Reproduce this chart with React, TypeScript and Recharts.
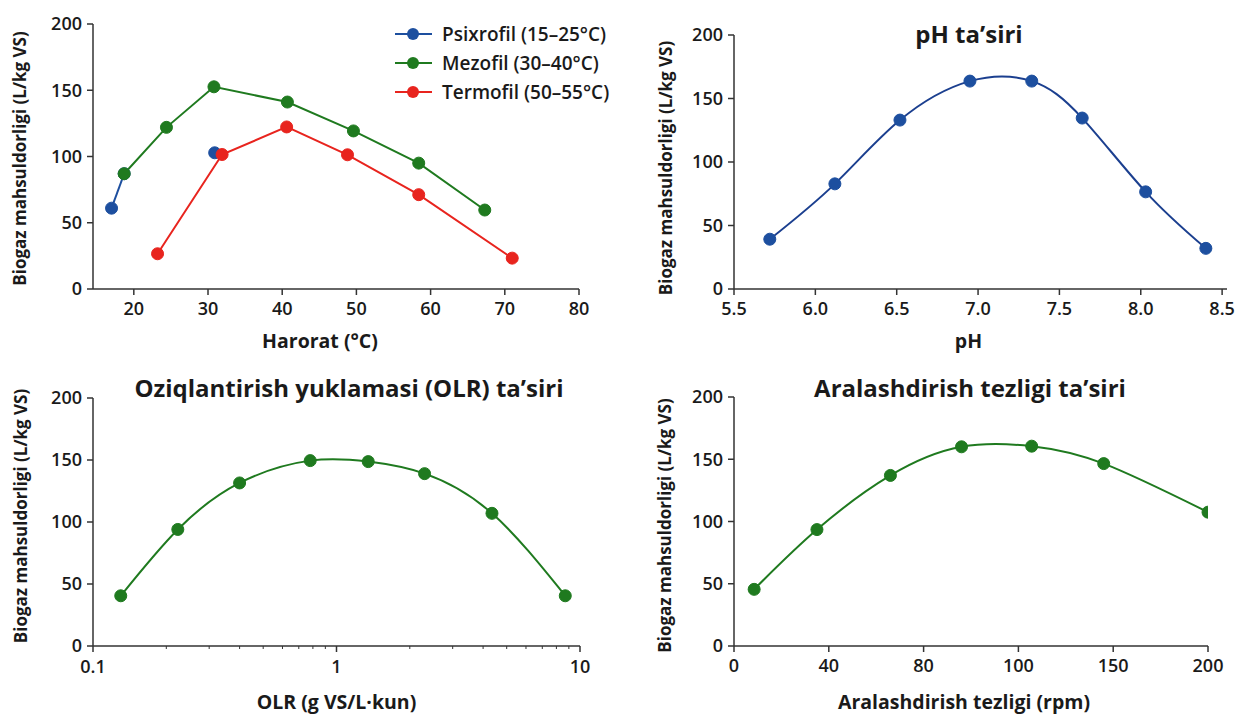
import React from 'react';
import { LineChart, Line, XAxis, YAxis, Legend } from 'recharts';

const FONT = '"Open Sans", "Noto Sans", "DejaVu Sans", sans-serif';
const AXIS = '#333333';
const TEXT = '#1a1a1a';
const BLUE = '#1d4f9f';
const NAVY = '#1b3f8f';
const GREEN = '#1f7a1f';
const RED = '#e8241e';

const Y_TITLE = 'Biogaz mahsuldorligi (L/kg VS)';
const yTicks = [0, 50, 100, 150, 200];

// Panel 1: temperature
const seriesNames = ['Psixrofil (15–25°C)', 'Mezofil (30–40°C)', 'Termofil (50–55°C)'];
const tempTicks = [20, 30, 40, 50, 60, 70, 80];
const psixTemp = [17.0, 18.7, 24.0, 30.9];
const psixYield: (number | null)[] = [61, 87, null, 102.8];
const mezTemp = [18.7, 24.4, 30.8, 40.7, 49.6, 58.4, 67.3];
const mezYield = [87, 122, 152.6, 141.1, 119.3, 95, 59.6];
const termTemp = [23.2, 31.9, 40.6, 48.8, 58.4, 71.0];
const termYield = [26.6, 101.5, 122.3, 101.3, 71.2, 23.3];

// Panel 2: pH
const phTicks = [5.5, 6.0, 6.5, 7.0, 7.5, 8.0, 8.5];
const phValues = [5.72, 6.12, 6.52, 6.95, 7.33, 7.64, 8.03, 8.4];
const phYield = [39.2, 82.8, 133, 163.7, 163.7, 134.6, 76.5, 32];

// Panel 3: OLR
const olrMajor = [0.1, 1, 10];
const olrTicks = [0.1, 0.2, 0.3, 0.4, 0.5, 0.6, 0.7, 0.8, 0.9, 1, 2, 3, 4, 5, 6, 7, 8, 9, 10];
const olrValues = [0.13, 0.223, 0.4, 0.78, 1.35, 2.3, 4.35, 8.7];
const olrYield = [40.5, 94, 131.5, 149.5, 148.7, 139, 107, 40.5];

// Panel 4: mixing speed
const rpmTicks = [0, 40, 80, 100, 150, 200];
const rpmValues = [8.5, 35, 66, 88, 107, 145, 200];
const rpmYield = [45.5, 93.5, 137, 160, 160.5, 146.5, 107.5];

const zip = (xs: number[], ys: (number | null)[]) => xs.map((x, i) => ({ x, y: ys[i] }));
const rpmPos = (v: number) => {
  for (let i = 1; i < rpmTicks.length; i++) {
    if (v <= rpmTicks[i]) return i - 1 + (v - rpmTicks[i - 1]) / (rpmTicks[i] - rpmTicks[i - 1]);
  }
  return rpmTicks.length - 1;
};

const psixData = zip(psixTemp, psixYield);
const mezData = zip(mezTemp, mezYield);
const termData = zip(termTemp, termYield);
const phData = zip(phValues, phYield);
const olrData = zip(olrValues, olrYield);
const rpmData = zip(rpmValues.map(rpmPos), rpmYield);
const rpmTickPos = rpmTicks.map((_, i) => i);

const tickStyle = { fill: TEXT, fontSize: 18, fontFamily: FONT, fontWeight: 600 };
const yLabelStyle: React.CSSProperties = { fill: TEXT, fontSize: 17, fontFamily: FONT, fontWeight: 700 };
const xLabelStyle: React.CSSProperties = { fill: TEXT, fontSize: 19.5, fontFamily: FONT, fontWeight: 700 };

const yTitle = (cxOffset: number, dy: number) => (props: any) => {
  const vb = props.viewBox || {};
  const cx = (vb.x ?? 0) + cxOffset;
  const cy = (vb.y ?? 0) + (vb.height ?? 0) / 2 + dy;
  return (
    <text x={cx} y={cy} transform={`rotate(-90 ${cx} ${cy})`} textAnchor="middle" dominantBaseline="central" style={yLabelStyle}>
      {Y_TITLE}
    </text>
  );
};

const xTitle = (text: string, dx: number, dy: number) => (props: any) => {
  const vb = props.viewBox || {};
  const cx = (vb.x ?? 0) + (vb.width ?? 0) / 2 + dx;
  const cy = (vb.y ?? 0) + dy;
  return (
    <text x={cx} y={cy} textAnchor="middle" dominantBaseline="central" style={xLabelStyle}>
      {text}
    </text>
  );
};

const OlrTick = (props: any) => {
  const { x, y, payload } = props;
  const major = olrMajor.includes(payload.value);
  return (
    <g>
      <line x1={x} x2={x} y1={y} y2={y + (major ? 6 : 3)} stroke={AXIS} strokeWidth={major ? 1.5 : 1} />
      {major && (
        <text x={x} y={y + 14} dy="0.71em" textAnchor="middle" style={tickStyle}>
          {String(payload.value)}
        </text>
      )}
    </g>
  );
};

const axisLine = { stroke: AXIS, strokeWidth: 1.5 };

const yAxis = (width: number, cxOffset: number, dy: number) => (
  <YAxis
    type="number"
    domain={[0, 200]}
    ticks={yTicks}
    interval={0}
    width={width}
    axisLine={axisLine}
    tickLine={axisLine}
    tickSize={6}
    tickMargin={5}
    tick={tickStyle}
    label={yTitle(cxOffset, dy)}
  />
);

const dot = (c: string) => ({ r: 6, fill: c, stroke: c, strokeWidth: 1 });

const LegendBox = (props: any) => {
  const payload = [...(props.payload || [])].sort(
    (a: any, b: any) => seriesNames.indexOf(a.value) - seriesNames.indexOf(b.value)
  );
  return (
    <div style={{ fontFamily: FONT }}>
      {payload.map((p: any, i: number) => (
        <div key={i} style={{ display: 'flex', alignItems: 'center', height: 29 }}>
          <svg width={40} height={14} style={{ marginRight: 8 }}>
            <line x1={1} x2={38} y1={7} y2={7} stroke={p.color} strokeWidth={2} />
            <circle cx={19} cy={7} r={6} fill={p.color} />
          </svg>
          <span style={{ fontSize: 19, fontWeight: 600, color: TEXT, whiteSpace: 'nowrap' }}>{p.value}</span>
        </div>
      ))}
    </div>
  );
};

const titleStyle = (cx: number, cy: number): React.CSSProperties => ({
  position: 'absolute',
  left: cx,
  top: cy,
  transform: 'translate(-50%, -50%)',
  fontFamily: FONT,
  fontWeight: 700,
  fontSize: 24,
  color: TEXT,
  whiteSpace: 'nowrap',
});

export default function App() {
  return (
    <div style={{ position: 'absolute', left: 0, top: 0, width: 1237, height: 715, background: '#ffffff', overflow: 'hidden' }}>
      {/* Panel 1 */}
      <div style={{ position: 'absolute', left: 0, top: 0 }}>
        <LineChart width={600} height={360} margin={{ top: 24, right: 21, left: 0, bottom: 0 }}>
          <XAxis
            dataKey="x"
            type="number"
            domain={[14.5, 80]}
            ticks={tempTicks}
            interval={0}
            allowDataOverflow
            height={71}
            axisLine={axisLine}
            tickLine={axisLine}
            tickSize={6}
            tickMargin={7}
            tick={tickStyle}
            label={xTitle('Harorat (°C)', -16, 51)}
          />
          {yAxis(93, 19, 2)}
          <Legend
            layout="horizontal"
            verticalAlign="middle"
            align="center"
            content={<LegendBox />}
            wrapperStyle={{ position: 'absolute', left: 394, top: 19, width: 'auto' }}
          />
          <Line data={psixData} dataKey="y" name={seriesNames[0]} type="linear" stroke={BLUE} strokeWidth={2} dot={dot(BLUE)} activeDot={false} connectNulls={false} isAnimationActive={false} />
          <Line data={mezData} dataKey="y" name={seriesNames[1]} type="linear" stroke={GREEN} strokeWidth={2} dot={dot(GREEN)} activeDot={false} isAnimationActive={false} />
          <Line data={termData} dataKey="y" name={seriesNames[2]} type="linear" stroke={RED} strokeWidth={2} dot={dot(RED)} activeDot={false} isAnimationActive={false} />
        </LineChart>
      </div>

      {/* Panel 2 */}
      <div style={{ position: 'absolute', left: 620, top: 0 }}>
        <LineChart width={617} height={360} margin={{ top: 35, right: 10, left: 0, bottom: 0 }}>
          <XAxis
            dataKey="x"
            type="number"
            domain={[5.5, 8.53]}
            ticks={phTicks}
            interval={0}
            allowDataOverflow
            height={71}
            axisLine={axisLine}
            tickLine={axisLine}
            tickSize={6}
            tickMargin={7}
            tick={tickStyle}
            tickFormatter={(v: number) => v.toFixed(1)}
            label={xTitle('pH', -12, 51)}
          />
          {yAxis(114, 45, 6)}
          <Line data={phData} dataKey="y" name="pH" type="natural" stroke={NAVY} strokeWidth={2} dot={dot(BLUE)} activeDot={false} isAnimationActive={false} />
        </LineChart>
      </div>
      <div style={titleStyle(969, 33)}>pH ta’siri</div>

      {/* Panel 3 */}
      <div style={{ position: 'absolute', left: 0, top: 360 }}>
        <LineChart width={600} height={355} margin={{ top: 38, right: 20, left: 0, bottom: 0 }}>
          <XAxis
            dataKey="x"
            type="number"
            scale="log"
            domain={[0.1, 10]}
            ticks={olrTicks}
            interval={0}
            allowDataOverflow
            height={69}
            axisLine={axisLine}
            tickLine={false}
            tickSize={0}
            tickMargin={0}
            tick={<OlrTick />}
            label={xTitle('OLR (g VS/L·kun)', 0, 55)}
          />
          {yAxis(93, 20, -6)}
          <Line data={olrData} dataKey="y" name="OLR" type="natural" stroke={GREEN} strokeWidth={2} dot={dot(GREEN)} activeDot={false} isAnimationActive={false} />
        </LineChart>
      </div>
      <div style={titleStyle(349, 387)}>Oziqlantirish yuklamasi (OLR) ta’siri</div>

      {/* Panel 4 */}
      <div style={{ position: 'absolute', left: 620, top: 360 }}>
        <LineChart width={617} height={355} margin={{ top: 37, right: 29, left: 0, bottom: 0 }}>
          <XAxis
            dataKey="x"
            type="number"
            domain={[0, rpmTicks.length - 1]}
            ticks={rpmTickPos}
            interval={0}
            allowDataOverflow
            height={69}
            axisLine={axisLine}
            tickLine={axisLine}
            tickSize={6}
            tickMargin={7}
            tick={tickStyle}
            tickFormatter={(v: number) => String(rpmTicks[Math.round(v)])}
            label={xTitle('Aralashdirish tezligi (rpm)', -7, 55)}
          />
          {yAxis(114, 44, 4)}
          <Line data={rpmData} dataKey="y" name="rpm" type="natural" stroke={GREEN} strokeWidth={2} dot={dot(GREEN)} activeDot={false} isAnimationActive={false} />
        </LineChart>
      </div>
      <div style={titleStyle(970, 387)}>Aralashdirish tezligi ta’siri</div>
    </div>
  );
}
